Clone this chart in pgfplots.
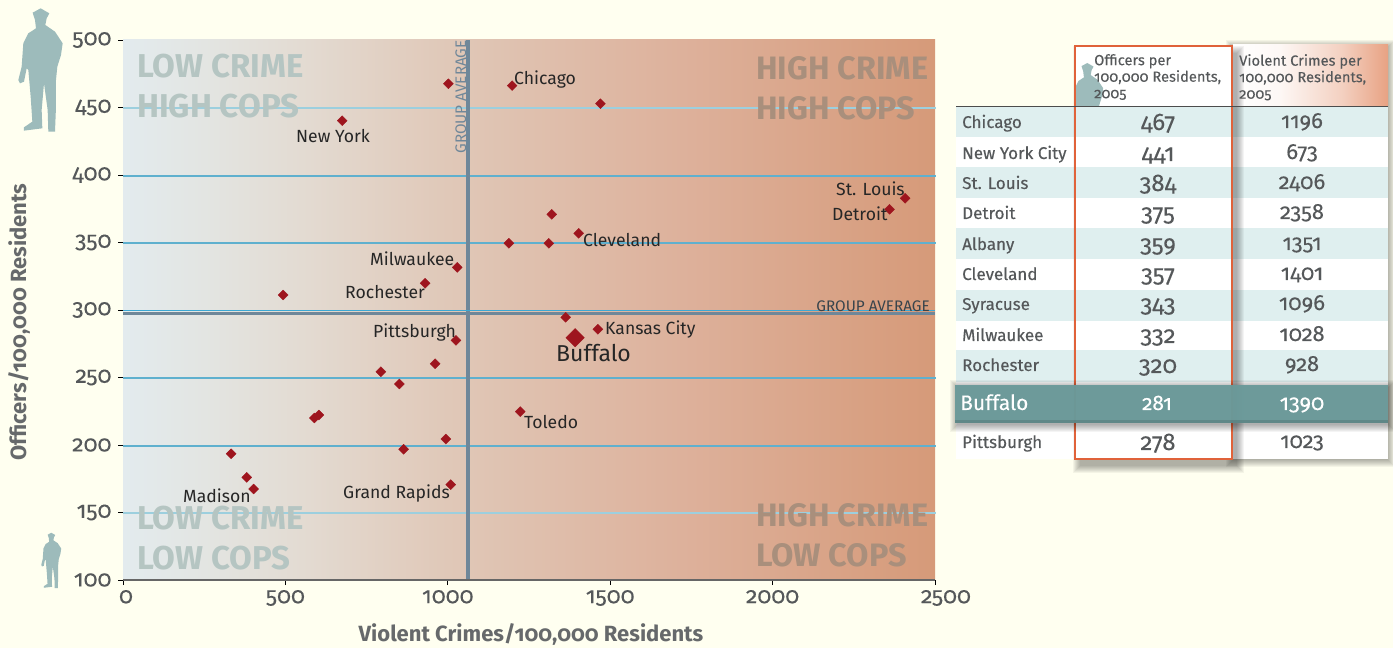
\documentclass[border=0pt]{standalone}
\usepackage{fontspec}
\setmainfont[Numbers=OldStyle]{Fira Sans}
\newfontfamily\medfont[Numbers=OldStyle,FakeBold=0.25]{Fira Sans}
\newfontfamily\numfont[Numbers=OldStyle,FakeBold=0.12]{Fira Sans}
\usepackage{pgfplots}
\pgfplotsset{compat=1.18}
\definecolor{paper}{HTML}{FFFFF0}
\definecolor{tick}{HTML}{55585A}
\definecolor{grid}{HTML}{5FB0CE}
\definecolor{gridl}{HTML}{9CCFDE}
\definecolor{gridh}{HTML}{3CA8D4}
\definecolor{avg}{HTML}{6F8799}
\definecolor{mk}{HTML}{9E151E}
\definecolor{cop}{HTML}{9DBBBB}
\definecolor{tint}{HTML}{DFEFEF}
\definecolor{buf}{HTML}{6B9A9A}
\definecolor{box}{HTML}{E0623A}
\definecolor{lowt}{HTML}{B5C5C2}
\definecolor{hight}{HTML}{A98F7C}
\definecolor{c0}{HTML}{E3EBEE}\definecolor{c1}{HTML}{E3E5E2}\definecolor{c2}{HTML}{E3DBD2}
\definecolor{c3}{HTML}{E0C8B8}\definecolor{c4}{HTML}{DDB09A}\definecolor{c5}{HTML}{D69A79}
\definecolor{hdr}{HTML}{E8A283}
\pgfdeclarehorizontalshading{bgshade}{100bp}{color(0bp)=(c0);color(25bp)=(c0);color(30bp)=(c1);color(36bp)=(c2);color(45bp)=(c3);color(60bp)=(c4);color(75bp)=(c5);color(100bp)=(c5)}
\pgfdeclarehorizontalshading{hdrshade}{100bp}{color(0bp)=(white);color(25bp)=(white);color(40bp)=(white!92!hdr);color(60bp)=(white!50!hdr);color(75bp)=(hdr);color(100bp)=(hdr)}
\newcommand{\copshape}{(98,38)--(122,25)--(148,40)--(140,55)--(136,75)--(165,95)--(188,130)--(183,165)--(172,200)--(168,240)--(168,320)--(165,395)--(145,395)--(143,330)--(132,250)--(125,330)--(127,385)--(72,392)--(72,382)--(97,365)--(92,290)--(85,210)--(80,205)--(72,245)--(60,250)--(55,240)--(65,200)--(70,130)--(85,100)--(108,85)--(105,60)--cycle}
\newcommand{\softshadow}[6]{\foreach \i in {0,...,7}{\fill[black,opacity=.045] (#1+#5-\i,#2+#6-\i) rectangle (#3+#5+\i,#4+#6+\i);}}
\begin{document}
\begin{tikzpicture}[x=1pt,y=1pt]
\useasboundingbox (0,0) rectangle (1393,648);
\fill[paper] (0,0) rectangle (1393,648);
\begin{scope}[x=1pt,y=-1pt,shift={(0pt,648pt)}]
\shade[shading=bgshade] (123,40) rectangle (935,580);
\draw[gridl,line width=1.4pt] (123,108)--(936,108);
\draw[gridl,line width=1.4pt] (123,513)--(936,513);
\draw[grid,line width=1.4pt] (123,176)--(936,176);
\draw[grid,line width=1.4pt] (123,243)--(936,243);
\draw[grid,line width=1.4pt] (123,378)--(936,378);
\draw[grid,line width=1.4pt] (123,446)--(936,446);
\end{scope}
\begin{axis}[
  at={(123pt,68pt)},anchor=south west,
  width=812pt,height=540pt,scale only axis,
  xmin=0,xmax=2500,ymin=100,ymax=500,
  axis y line=left,axis x line=bottom,
  axis line style={draw=none},
  xtick={0,500,1000,1500,2000,2500},
  xticklabels={\hspace{6pt}0,500,1000,1500,2000,\hspace{22pt}2500},
  ytick={100,150,200,250,300,350,400,450,500},
  tick align=outside,major tick length=5pt,
  tick style={black,line width=.8pt},
  /pgf/number format/assume math mode=true,
  ticklabel style={font=\numfont\fontsize{23}{23}\selectfont,text=tick},
  yticklabel style={xshift=-3pt},
  xticklabel style={yshift=-1.5pt},
  clip=false,
]
\addplot[avg,line width=4pt,forget plot] coordinates {(1063,100) (1063,500)};
\addplot[avg,line width=3.2pt,forget plot] coordinates {(0,297.3) (2500,297.3)};
\addplot[gridh,line width=1.1pt,forget plot] coordinates {(0,299.8) (2500,299.8)};
\addplot[only marks,mark=square*,mark size=3.5pt,mark options={rotate=45,fill=mk,draw=mk}] coordinates {
(1002,467.6)(1198,466.2)(1470,452.8)(675,440.2)(2408,382.7)(2360,374.6)(1320,370.9)(1403,356.8)
(1188,349.4)(1311,349.4)(1029,331.6)(930,319.8)(493,311.1)(1363,294.6)(1462,285.7)(1025,277.5)
(961,260.2)(794,254.3)(851,245.2)(603,222.2)(589,220)(1223,224.7)(994,204.4)(864,196.8)
(333,193.5)(381,176)(402,167.4)(1009,170.6)};
\addplot[only marks,mark=square*,mark size=6.5pt,mark options={rotate=45,fill=mk,draw=mk}] coordinates {(1392,279.5)};
\end{axis}
\begin{scope}[x=1pt,y=-1pt,shift={(0pt,648pt)}]
\draw[gray!80!black,line width=1.2pt] (123,580)--(935,580);
% silhouettes
\begin{scope}[shift={(0,0)},x=.3333pt,y=-.3333pt]\fill[cop] \copshape;\end{scope}
\begin{scope}[shift={(33,529)},x=.15pt,y=-.15pt]\fill[cop] \copshape;\end{scope}
% quadrant words
\tikzset{bigl/.style={font=\bfseries\fontsize{33}{33}\selectfont,anchor=base west,inner sep=0,text=lowt},
 bigh/.style={font=\bfseries\fontsize{32.4}{32.4}\selectfont,anchor=base west,inner sep=0,text=hight}}
\node[bigl] at (137,78) {LOW CRIME};
\node[bigl] at (137,118) {HIGH COPS};
\node[bigl] at (137,530) {LOW CRIME};
\node[bigl] at (137,570) {LOW COPS};
\node[bigh] at (756,80) {HIGH CRIME};
\node[bigh] at (756,120) {HIGH COPS};
\node[bigh] at (756,527) {HIGH CRIME};
\node[bigh] at (756,567) {LOW COPS};
% group average
\node[font=\fontsize{15.3}{15.3}\selectfont,text=avg,rotate=90,anchor=base east,inner sep=0] at (466,40) {GROUP AVERAGE};
\node[font=\fontsize{15.3}{15.3}\selectfont,text=black!50!avg,anchor=base east,inner sep=0] at (930,312) {GROUP AVERAGE};
% point labels
\tikzset{pl/.style={font=\fontsize{17.6}{17.6}\selectfont,text=black!85,inner sep=0,anchor=base west}}
\node[pl] at (514,85) {Chicago};
\node[pl] at (296,143) {New York};
\node[pl] at (836,196) {St. Louis};
\node[pl] at (832,221) {Detroit};
\node[pl] at (583,247) {Cleveland};
\node[pl] at (370,266) {Milwaukee};
\node[pl] at (345,299) {Rochester};
\node[pl] at (605,335) {Kansas City};
\node[pl] at (373,338) {Pittsburgh};
\node[pl,font=\fontsize{23}{23}\selectfont] at (556,362) {Buffalo};
\node[pl] at (524,429) {Toledo};
\node[pl] at (183,503) {Madison};
\node[pl] at (343,499) {Grand Rapids};
% axis titles
\node[font=\bfseries\fontsize{22}{22}\selectfont,text=tick!90!white,anchor=base] at (531,641.5) {Violent Crimes/100,000 Residents};
\node[font=\bfseries\fontsize{22}{22}\selectfont,text=tick!90!white,rotate=90,anchor=base] at (26,322) {Officers/100,000 Residents};
% table
\softshadow{1233}{46}{1388}{459}{0}{1}
\fill[white] (956,107) rectangle (1388,459);
\shade[shading=hdrshade] (1233,45) rectangle (1388,106);
\foreach \a/\b in {107/137,167/198,228/259,290/321,350/382}{\fill[tint] (956,\a) rectangle (1388,\b);}
\softshadow{1075}{46}{1232}{459}{5}{7}
\fill[white] (1076,46) rectangle (1232,106);
\begin{scope}\clip (1076,46) rectangle (1232,106);
\begin{scope}[shift={(1058,57)},x=.24pt,y=-.24pt]\fill[cop] \copshape;\end{scope}
\end{scope}
\foreach \a/\b in {107/137,167/198,228/259,290/321,350/382}{\fill[tint] (1076,\a) rectangle (1232,\b);}
\foreach \a/\b in {137/167,198/228,259/290,321/350,382/459}{\fill[white] (1076,\a) rectangle (1232,\b);}
\draw[box,line width=2pt] (1075,46) rectangle (1232,459);
\draw[black!70,line width=1pt] (956,106.5)--(1388,106.5);
\softshadow{956}{385}{1388}{423}{1}{2}
\fill[buf,opacity=.97] (955,385) rectangle (1388,423);
\fill[black,opacity=.12] (955,420) rectangle (1388,423);
\tikzset{hd/.style={font=\numfont\fontsize{14.7}{16.5}\selectfont,text=tick,align=left,anchor=north west,inner sep=0}}
\node[hd] at (1094,54) {Officers per\\100,000 Residents,\\2005};
\node[hd] at (1239,54) {Violent Crimes per\\100,000 Residents,\\2005};
\tikzset{rl/.style={font=\medfont\fontsize{17}{17}\selectfont,text=tick,anchor=base west,inner sep=0},
 oc/.style={font=\numfont\fontsize{24}{24}\selectfont,text=tick,anchor=base,inner sep=0},
 vc/.style={font=\numfont\fontsize{22}{22}\selectfont,text=tick,anchor=base,inner sep=0}}
\foreach \n/\o/\v/\y in {Chicago/467/1196/128,New York City/441/673/159,St. Louis/384/2406/189,Detroit/375/2358/219,Albany/359/1351/250,Cleveland/357/1401/280,Syracuse/343/1096/310,Milwaukee/332/1028/341,Rochester/320/928/371,Pittsburgh/278/1023/448}{
\node[rl] at (962,\y) {\n};
\node[oc] at (1158,\y+2) {\o};
\node[vc] at (1302,\y) {\v};
}
\node[font=\medfont\fontsize{21}{21}\selectfont,text=white,anchor=base west,inner sep=0] at (960,410) {Buffalo};
\node[oc,font=\numfont\fontsize{21}{21}\selectfont,text=white] at (1157,410) {281};
\node[vc,text=white] at (1302,410) {1390};
\end{scope}
\end{tikzpicture}
\end{document}
